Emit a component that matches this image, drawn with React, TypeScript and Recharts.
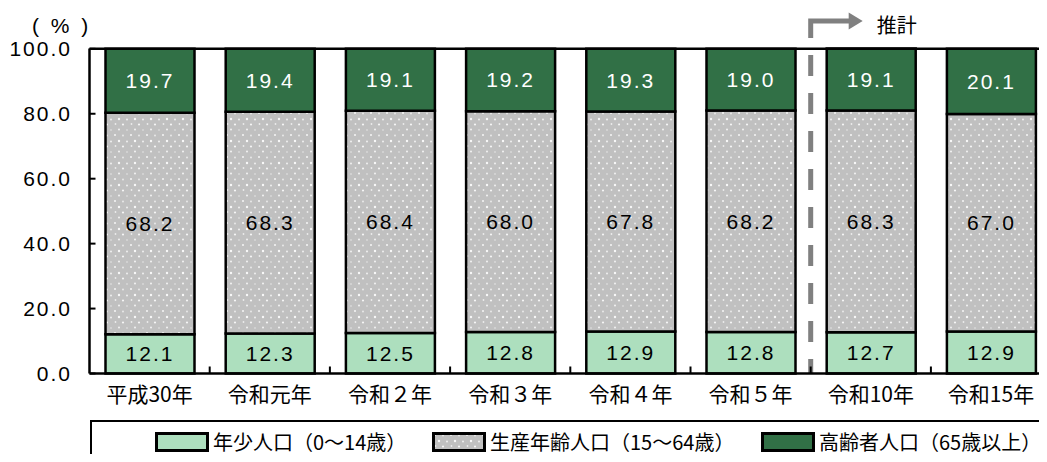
import {
  BarChart,
  Bar,
  XAxis,
  YAxis,
  LabelList,
  ReferenceLine,
} from "recharts";

const categories = [
  "平成30年",
  "令和元年",
  "令和２年",
  "令和３年",
  "令和４年",
  "令和５年",
  "令和10年",
  "令和15年",
];
const youthShare = [12.1, 12.3, 12.5, 12.8, 12.9, 12.8, 12.7, 12.9];
const workingShare = [68.2, 68.3, 68.4, 68.0, 67.8, 68.2, 68.3, 67.0];
const elderlyShare = [19.7, 19.4, 19.1, 19.2, 19.3, 19.0, 19.1, 20.1];
const yTicks = [0, 20, 40, 60, 80, 100];
const projectionStart = "令和10年";

const legendItems = [
  { label: "年少人口（0～14歳）", fill: "#ADDFBE", left: 155 },
  { label: "生産年齢人口（15～64歳）", fill: "pattern", left: 432 },
  { label: "高齢者人口（65歳以上）", fill: "#317046", left: 761 },
];

const data = categories.map((name, i) => ({
  name,
  youth: youthShare[i],
  working: workingShare[i],
  elderly: elderlyShare[i],
}));

const LIGHT_GREEN = "#ADDFBE";
const DARK_GREEN = "#317046";
const GREY = "#C0C0C0";
const ARROW = "#808080";

const CHART_W = 1060;
const CHART_H = 462;
const Y_AXIS_W = 89.5;
const PLOT_W = 961.6;
const CAT_W = PLOT_W / categories.length;
const JP = '"Noto Sans CJK JP", "Noto Sans", sans-serif';
const NUM = '"Liberation Sans", Arial, sans-serif';

const fmt = (v: unknown) => Number(v).toFixed(1);
const numStyle = { letterSpacing: 2 };

function DotPattern({ id }: { id: string }) {
  return (
    <pattern id={id} width="16" height="22" patternUnits="userSpaceOnUse">
      <rect width="16" height="22" fill={GREY} />
      <circle cx="3" cy="3" r="1" fill="#fff" opacity="0.85" />
      <circle cx="11" cy="3.5" r="0.9" fill="#fff" opacity="0.7" />
      <circle cx="7" cy="9" r="1.2" fill="#fff" opacity="0.9" />
      <circle cx="15" cy="9.5" r="1" fill="#fff" opacity="0.75" />
      <circle cx="3.5" cy="14" r="0.9" fill="#fff" opacity="0.7" />
      <circle cx="11" cy="14.5" r="1.1" fill="#fff" opacity="0.85" />
      <circle cx="7" cy="19.5" r="1" fill="#fff" opacity="0.8" />
      <circle cx="15" cy="20" r="0.8" fill="#fff" opacity="0.6" />
    </pattern>
  );
}

function CategoryTick(props: any) {
  const { x, y, payload, index } = props;
  const left = x - CAT_W / 2;
  return (
    <g>
      {index > 0 && (
        <line x1={left} x2={left} y1={y} y2={y - 7} stroke="#000" strokeWidth={2} />
      )}
      <text
        x={x}
        y={y + 19}
        textAnchor="middle"
        dominantBaseline="central"
        fontFamily={JP}
        fontSize={21}
        fill="#000"
      >
        {payload.value}
      </text>
    </g>
  );
}

// 推計 marker: grey L-arrow above the plot, dashed line down to the axis
function ProjectionMarker(props: any) {
  const x = props.x1;
  const plotTop = Math.min(props.y1, props.y2);
  const plotBottom = Math.max(props.y1, props.y2);
  const corner = plotTop - 27.5;
  const start = plotTop - 10.5;
  return (
    <g>
      <line
        x1={x}
        x2={x}
        y1={start}
        y2={plotBottom}
        stroke={ARROW}
        strokeWidth={5}
        strokeDasharray="21 17"
        strokeDashoffset={21}
      />
      <path
        d={`M${x},${start} V${corner} H${x + 39}`}
        fill="none"
        stroke={ARROW}
        strokeWidth={5}
      />
      <polygon
        points={`${x + 38},${corner - 8.5} ${x + 52},${corner} ${x + 38},${corner + 8.5}`}
        fill={ARROW}
      />
      <text
        x={x + 66}
        y={corner + 3}
        dominantBaseline="central"
        fontFamily={JP}
        fontSize={20}
        fill="#000"
      >
        推計
      </text>
    </g>
  );
}

function LegendBox() {
  return (
    <div
      style={{
        position: "absolute",
        left: 90,
        top: 420,
        width: 1000,
        height: 70,
        border: "2px solid #000",
        boxSizing: "border-box",
        background: "#fff",
      }}
    >
      {legendItems.map((it) => (
        <div
          key={it.label}
          style={{
            position: "absolute",
            left: it.left - 92,
            top: 9,
            display: "flex",
            alignItems: "center",
            whiteSpace: "nowrap",
          }}
        >
          <svg width={54} height={20} style={{ display: "block" }}>
            {it.fill === "pattern" && (
              <defs>
                <DotPattern id="dots-legend" />
              </defs>
            )}
            <rect
              x={1.5}
              y={1.5}
              width={51}
              height={17}
              fill={it.fill === "pattern" ? "url(#dots-legend)" : it.fill}
              stroke="#000"
              strokeWidth={3}
            />
          </svg>
          <span
            style={{
              fontFamily: JP,
              fontSize: 20,
              lineHeight: "22px",
              marginLeft: 4,
              color: "#000",
            }}
          >
            {it.label}
          </span>
        </div>
      ))}
    </div>
  );
}

export default function App() {
  return (
    <div
      style={{
        position: "relative",
        width: 1047,
        height: 462,
        margin: -8,
        overflow: "hidden",
        background: "#fff",
      }}
    >
      <div
        style={{
          position: "absolute",
          left: 32,
          top: 12,
          fontFamily: NUM,
          fontSize: 21,
          letterSpacing: 3,
          lineHeight: "28px",
          whiteSpace: "pre",
          color: "#000",
        }}
      >
        ( % )
      </div>
      <BarChart
        width={CHART_W}
        height={CHART_H}
        data={data}
        margin={{ top: 48.5, right: CHART_W - Y_AXIS_W - PLOT_W, bottom: 58.5, left: 0 }}
        barSize={89}
      >
        <defs>
          <DotPattern id="dots" />
        </defs>
        <XAxis
          dataKey="name"
          interval={0}
          height={30}
          tickSize={0}
          tickMargin={0}
          tickLine={false}
          axisLine={{ stroke: "#000", strokeWidth: 2.5 }}
          tick={<CategoryTick />}
        />
        <YAxis
          width={Y_AXIS_W}
          domain={[0, 100]}
          ticks={yTicks}
          interval={0}
          tickFormatter={fmt}
          tickSize={-6}
          tickMargin={23.5}
          axisLine={{ stroke: "#000", strokeWidth: 2.5 }}
          tickLine={{ stroke: "#000", strokeWidth: 2 }}
          tick={{ fill: "#000", fontSize: 21, fontFamily: NUM, style: numStyle }}
        />
        <Bar
          dataKey="youth"
          stackId="a"
          fill={LIGHT_GREEN}
          stroke="#000"
          strokeWidth={2.5}
          isAnimationActive={false}
        >
          <LabelList
            dataKey="youth"
            position="center"
            formatter={fmt}
            fill="#000"
            fontSize={21}
            fontFamily={NUM}
            style={numStyle}
          />
        </Bar>
        <Bar
          dataKey="working"
          stackId="a"
          fill="url(#dots)"
          stroke="#000"
          strokeWidth={2.5}
          isAnimationActive={false}
        >
          <LabelList
            dataKey="working"
            position="center"
            formatter={fmt}
            fill="#000"
            fontSize={21}
            fontFamily={NUM}
            style={numStyle}
          />
        </Bar>
        <Bar
          dataKey="elderly"
          stackId="a"
          fill={DARK_GREEN}
          stroke="#000"
          strokeWidth={2.5}
          isAnimationActive={false}
        >
          <LabelList
            dataKey="elderly"
            position="center"
            formatter={fmt}
            fill="#fff"
            fontSize={21}
            fontFamily={NUM}
            style={numStyle}
          />
        </Bar>
        <ReferenceLine y={100} stroke="#000" strokeWidth={2.5} />
        <ReferenceLine
          x={projectionStart}
          position="start"
          shape={<ProjectionMarker />}
        />
      </BarChart>
      <LegendBox />
    </div>
  );
}
